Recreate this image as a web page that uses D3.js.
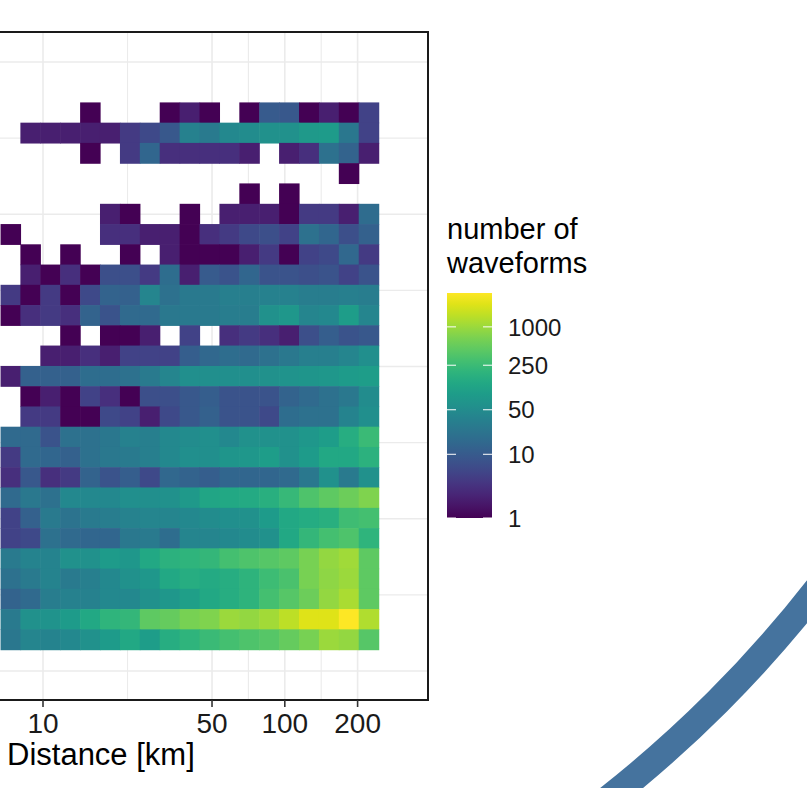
<!DOCTYPE html>
<html>
<head>
<meta charset="utf-8">
<script src="https://cdn.jsdelivr.net/npm/d3@7"></script>
<style>
  body { margin: 0; background: #fff; }
  svg { display: block; font-family: "Liberation Sans", Arial, sans-serif; }
</style>
</head>
<body>
<div class="main-container"></div>
<script>
// distance bins (km, geometric centres), log10 bin width
var distCenters = [7.36, 8.89, 10.75, 12.99, 15.70, 18.97, 22.94, 27.72, 33.50, 40.49,
                   48.94, 59.16, 71.50, 86.43, 104.4, 126.2, 152.6, 184.4, 222.9];
var distBinLog = 0.0823;
// magnitude bins (centres), top row first
var magCenters = [4.666, 4.533, 4.400, 4.267, 4.134, 4.000, 3.867, 3.734, 3.601, 3.468,
                  3.335, 3.202, 3.069, 2.935, 2.802, 2.669, 2.536, 2.403, 2.270, 2.137,
                  2.003, 1.870, 1.737, 1.604, 1.471, 1.338, 1.205];
var magBin = 0.1331;
// number of waveforms per cell (0 = empty)
var counts = [
  [0,0,0,0,1,0,0,0,1,2,1,0,1,10,9,1,2,1,5],
  [0,2,2,2,2,2,4,6,9,35,28,45,50,60,60,80,85,25,5],
  [0,0,0,0,1,0,4,14,3,3,3,3,2,0,2,3,20,13,2],
  [0,0,0,0,0,0,0,0,0,0,0,0,0,0,0,0,0,1,0],
  [0,0,0,0,0,0,0,0,0,0,0,0,1,0,1,0,0,0,0],
  [0,0,0,0,0,2,1,0,0,1,0,2,2,2,1,4,4,2,17],
  [1,0,0,0,0,3,3,2,2,1,3,4,6,7,5,20,14,7,12],
  [0,1,0,1,0,0,1,0,2,1,1,1,2,4,1,5,6,15,4],
  [0,2,1,3,1,7,7,4,18,2,10,8,14,8,8,7,8,5,8],
  [4,1,4,1,6,13,12,40,20,27,28,32,32,35,35,30,30,32,30],
  [1,3,4,3,13,8,16,16,26,27,28,30,30,60,75,40,45,90,40],
  [0,0,0,1,0,1,1,2,0,5,0,3,4,3,2,7,11,8,9],
  [0,0,2,2,3,2,5,5,5,11,15,18,16,20,26,32,32,40,55],
  [2,12,12,12,18,18,20,28,40,55,55,55,55,60,65,70,75,85,90],
  [0,1,2,1,5,3,1,7,7,9,11,8,8,8,13,16,20,26,50],
  [0,4,4,1,1,6,5,2,6,9,12,8,8,6,18,20,20,38,55],
  [16,16,8,20,20,25,35,32,45,50,55,45,60,60,60,75,90,160,250],
  [4,16,14,12,20,26,28,32,45,55,55,70,75,90,60,85,130,130,180],
  [3,9,3,4,13,8,11,6,15,13,11,14,14,14,16,26,60,28,60],
  [16,26,20,45,45,45,55,55,60,80,120,130,140,170,230,350,450,550,700],
  [5,12,28,22,28,30,36,40,40,45,50,55,60,85,130,150,170,270,300],
  [5,6,20,16,14,14,26,28,18,40,40,45,50,60,130,220,300,350,200],
  [28,38,38,60,60,85,75,130,180,200,220,300,350,400,450,650,900,1050,450],
  [20,28,38,28,32,45,60,75,130,160,140,160,190,260,330,650,850,1000,450],
  [13,16,30,35,35,45,45,60,75,95,130,160,190,300,400,550,900,1200,450],
  [28,60,65,85,130,200,220,450,500,650,700,1000,900,1100,1500,2300,2300,3400,1300],
  [25,40,38,45,60,85,130,90,160,200,250,300,350,400,500,650,1000,900,400]
];
var xTicks = [10, 50, 100, 200];
var yGrid = [1, 1.5, 2, 2.5, 3, 3.5, 4, 4.5, 5];
var legendTicks = [1, 10, 50, 250, 1000];
var legendTitle = ["number of", "waveforms"];
var countMax = 3400;

var W = 807, H = 788;
var panel = { left: -228, right: 428, top: 32, bottom: 700 };

var svg = d3.select(".main-container").append("svg")
  .attr("width", W).attr("height", H);

var x = d3.scaleLog().domain([10, 200]).range([43, 357.6]);
var y = d3.scaleLinear().domain([0.8095, 5.197]).range([panel.bottom, panel.top]);
var color = d3.scaleSequentialLog(d3.interpolateViridis).domain([1, countMax]);

// grid
var minors = d3.pairs(xTicks).map(function (p) { return Math.sqrt(p[0] * p[1]); });
svg.append("g").selectAll("line").data(xTicks.concat(minors)).enter().append("line")
  .attr("x1", function (d) { return x(d); }).attr("x2", function (d) { return x(d); })
  .attr("y1", panel.top).attr("y2", panel.bottom)
  .attr("stroke", "#ebebeb").attr("stroke-width", function (d) { return xTicks.indexOf(d) >= 0 ? 1.6 : 1.1; });
svg.append("g").selectAll("line").data(yGrid).enter().append("line")
  .attr("x1", panel.left).attr("x2", panel.right)
  .attr("y1", function (d) { return y(d); }).attr("y2", function (d) { return y(d); })
  .attr("stroke", "#ebebeb").attr("stroke-width", function (d, i) { return i % 2 ? 1.1 : 1.6; });

// tiles
var cells = [];
counts.forEach(function (row, i) {
  row.forEach(function (c, j) {
    if (c > 0) cells.push({ d: distCenters[j], m: magCenters[i], n: c });
  });
});
var half = Math.pow(10, distBinLog / 2);
svg.append("g").selectAll("rect").data(cells).enter().append("rect")
  .attr("x", function (d) { return x(d.d / half) - 0.3; })
  .attr("width", function (d) { return x(d.d * half) - x(d.d / half) + 0.6; })
  .attr("y", function (d) { return y(d.m + magBin / 2) - 0.3; })
  .attr("height", function (d) { return y(d.m - magBin / 2) - y(d.m + magBin / 2) + 0.6; })
  .attr("fill", function (d) { return color(d.n); });

// panel border
svg.append("rect")
  .attr("x", panel.left).attr("y", panel.top)
  .attr("width", panel.right - panel.left).attr("height", panel.bottom - panel.top)
  .attr("fill", "none").attr("stroke", "#1a1a1a").attr("stroke-width", 2);

// x axis
var xt = svg.append("g").selectAll("g").data(xTicks).enter().append("g");
xt.append("line")
  .attr("x1", function (d) { return x(d); }).attr("x2", function (d) { return x(d); })
  .attr("y1", panel.bottom).attr("y2", panel.bottom + 7)
  .attr("stroke", "#333").attr("stroke-width", 1.6);
xt.append("text")
  .attr("x", function (d) { return x(d); }).attr("y", 733)
  .attr("text-anchor", "middle").attr("font-size", 28).attr("fill", "#1a1a1a")
  .text(function (d) { return d; });
svg.append("text").attr("x", 7).attr("y", 765)
  .attr("font-size", 31).attr("fill", "#000").text("Distance [km]");

// legend
var lg = { x: 447, w: 45, top: 293, bottom: 518 };
var ly = d3.scaleLog().domain([1, countMax]).range([lg.bottom, lg.top]);
var grad = svg.append("defs").append("linearGradient").attr("id", "vir")
  .attr("x1", 0).attr("y1", 1).attr("x2", 0).attr("y2", 0);
grad.selectAll("stop").data(d3.range(0, 1.0001, 0.05)).enter().append("stop")
  .attr("offset", function (d) { return d; })
  .attr("stop-color", function (d) { return d3.interpolateViridis(d); });
svg.append("rect").attr("x", lg.x).attr("y", lg.top)
  .attr("width", lg.w).attr("height", lg.bottom - lg.top).attr("fill", "url(#vir)");
var lt = svg.append("g").selectAll("g").data(legendTicks).enter().append("g");
lt.append("line").attr("x1", lg.x).attr("x2", lg.x + 9)
  .attr("y1", function (d) { return ly(d); }).attr("y2", function (d) { return ly(d); })
  .attr("stroke", "#fff").attr("stroke-width", 1);
lt.append("line").attr("x1", lg.x + lg.w - 9).attr("x2", lg.x + lg.w)
  .attr("y1", function (d) { return ly(d); }).attr("y2", function (d) { return ly(d); })
  .attr("stroke", "#fff").attr("stroke-width", 1);
lt.append("text").attr("x", 508).attr("y", function (d) { return ly(d); })
  .attr("dy", "0.36em").attr("font-size", 24).attr("fill", "#1a1a1a")
  .text(function (d) { return d; });
svg.append("g").selectAll("text").data(legendTitle).enter().append("text")
  .attr("x", 447).attr("y", function (d, i) { return 239 + i * 34; })
  .attr("font-size", 29).attr("fill", "#000")
  .text(function (d) { return d; });

// slide decoration arc
svg.append("circle").attr("cx", -152).attr("cy", -167.5).attr("r", 1229.5)
  .attr("fill", "none").attr("stroke", "#45739e").attr("stroke-width", 27);
</script>
</body>
</html>
